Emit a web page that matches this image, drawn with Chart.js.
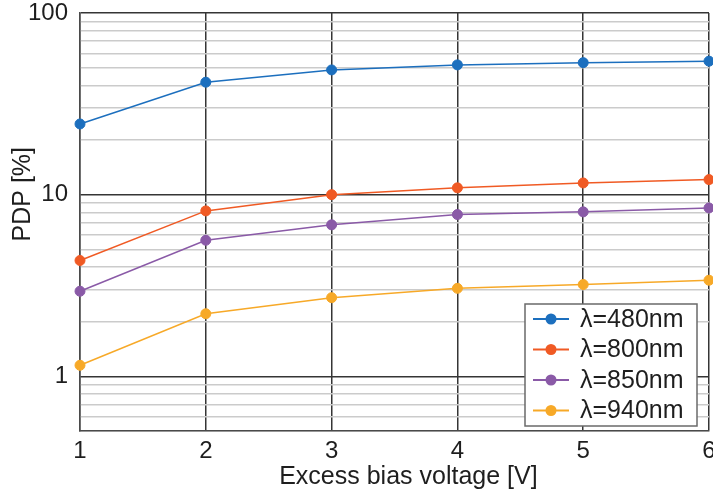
<!DOCTYPE html>
<html><head><meta charset="utf-8">
<script src="https://cdn.jsdelivr.net/npm/chart.js@4.4.1/dist/chart.umd.min.js"></script>
<style>html,body{margin:0;padding:0;overflow:hidden;background:#fff;width:713px;height:492px}canvas{display:block}</style>
</head><body>
<canvas id="c" width="730" height="492"></canvas>
<script>
const xValues = [1, 2, 3, 4, 5, 6];
const seriesLabels = ['λ=480nm', 'λ=800nm', 'λ=850nm', 'λ=940nm'];
const pdp480 = [24.5, 41.6, 48.6, 51.8, 53.3, 54.3];
const pdp800 = [4.34, 8.14, 10.0, 10.9, 11.6, 12.1];
const pdp850 = [2.94, 5.61, 6.82, 7.77, 8.04, 8.45];
const pdp940 = [1.15, 2.21, 2.71, 3.05, 3.2, 3.38];
const yMajorTicks = [1, 10, 100];
const yMinorTicks = [0.5, 0.6, 0.7, 0.8, 0.9, 2, 3, 4, 5, 6, 7, 8, 9, 20, 30, 40, 50, 60, 70, 80, 90];
const xTickLabels = ['1', '2', '3', '4', '5', '6'];
const seriesValues = [pdp480, pdp800, pdp850, pdp940];
const seriesColors = ['#1c6fbe', '#f05a24', '#8a5aa7', '#f7a928'];

const FONT = '"Liberation Sans", Arial, sans-serif';
Chart.defaults.font.family = FONT;
Chart.defaults.color = '#1e1e1e';

const datasets = seriesValues.map((vals, i) => ({
  label: seriesLabels[i],
  data: xValues.map((x, j) => ({x: x, y: vals[j]})),
  borderColor: seriesColors[i],
  backgroundColor: seriesColors[i],
  pointBackgroundColor: seriesColors[i],
  pointBorderColor: seriesColors[i],
  borderWidth: 1.5,
  pointRadius: 5,
  pointBorderWidth: 1,
  tension: 0,
  clip: false
}));

const boxLegend = {
  id: 'boxLegend',
  afterDatasetsDraw(chart) {
    const ctx = chart.ctx, ca = chart.chartArea;
    const w = 172, h = 122;
    const x0 = ca.right - 12 - w, y0 = ca.bottom - 5 - h;
    ctx.save();
    ctx.fillStyle = '#ffffff';
    ctx.fillRect(x0, y0, w, h);
    ctx.strokeStyle = '#6a6a6a';
    ctx.lineWidth = 1.5;
    ctx.strokeRect(x0, y0, w, h);
    ctx.font = '25px ' + FONT;
    ctx.textBaseline = 'middle';
    ctx.textAlign = 'left';
    chart.data.datasets.forEach((ds, i) => {
      const cy = y0 + 15 + i * 30.5;
      ctx.strokeStyle = ds.borderColor;
      ctx.lineWidth = 2;
      ctx.beginPath(); ctx.moveTo(x0 + 8, cy); ctx.lineTo(x0 + 44, cy); ctx.stroke();
      ctx.fillStyle = ds.borderColor;
      ctx.beginPath(); ctx.arc(x0 + 26, cy, 5.5, 0, Math.PI * 2); ctx.fill();
      ctx.fillStyle = '#1e1e1e';
      ctx.fillText(ds.label, x0 + 55, cy + 1);
    });
    ctx.restore();
  }
};

new Chart(document.getElementById('c'), {
  type: 'line',
  data: {datasets},
  options: {
    responsive: false,
    animation: false,
    devicePixelRatio: 1,
    layout: {padding: {top: 13, right: 21, bottom: 0, left: 0}},
    plugins: {legend: {display: false}, tooltip: {enabled: false}},
    scales: {
      x: {
        type: 'linear', min: 1, max: 6,
        ticks: {stepSize: 1, font: {size: 24}, padding: 6, color: '#1e1e1e',
          callback: (v) => xTickLabels[xValues.indexOf(v)] ?? ''},
        grid: {color: '#353535', lineWidth: 1.5, drawTicks: false},
        border: {display: true, color: '#4a4a4a', width: 1.5},
        title: {display: true, text: '    Excess bias voltage [V]', font: {size: 25}, color: '#1e1e1e', padding: {top: 0, bottom: 0}},
        afterFit: (s) => { s.height = 61; }
      },
      y: {
        type: 'logarithmic', min: 0.5, max: 100, z: -1,
        afterBuildTicks: (s) => {
          s.ticks = yMinorTicks.concat(yMajorTicks).sort((a, b) => a - b).map(v => ({value: v, major: yMajorTicks.includes(v)}));
        },
        ticks: {autoSkip: false, font: {size: 24}, padding: 12, color: '#1e1e1e',
          callback: (v) => yMajorTicks.includes(v) ? String(v) : ''},
        grid: {drawTicks: false, lineWidth: 1.5,
          color: (c) => (c.tick && yMajorTicks.includes(c.tick.value)) ? '#353535' : '#cbcbcb'},
        border: {display: true, color: '#4a4a4a', width: 1.5},
        title: {display: true, text: '        PDP [%]', font: {size: 25}, color: '#1e1e1e', padding: {top: 8, bottom: 0}},
        afterFit: (s) => { s.width = 80; s.paddingTop = 0; s.paddingBottom = 0; }
      }
    }
  },
  plugins: [boxLegend]
});
</script>
</body></html>
